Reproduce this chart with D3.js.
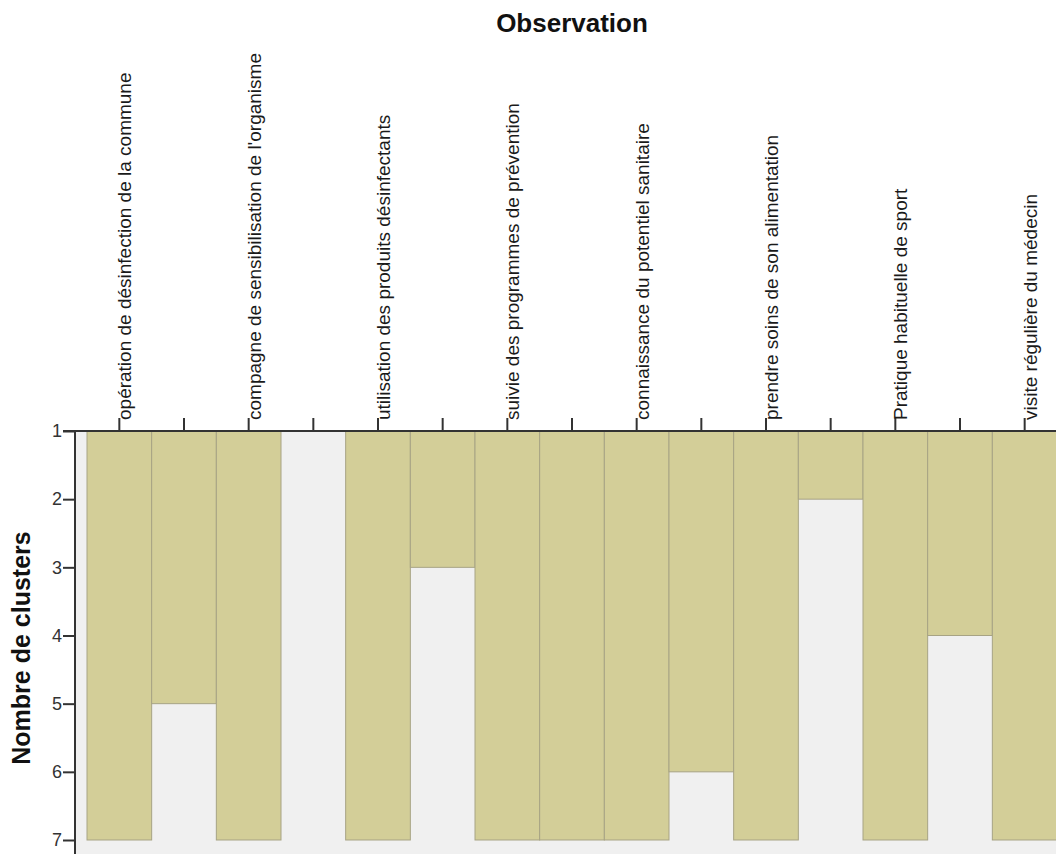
<!DOCTYPE html>
<html>
<head>
    <meta charset="utf-8">
    <title>Observation</title>
    <script src="https://d3js.org/d3.v7.min.js"></script>
    <style>
        body { margin: 0; background: #fff; }
        text { font-family: "Liberation Sans", Arial, sans-serif; }
        .tick text { fill: #333; }
    </style>
</head>
<body>
    <div id="chart"></div>

    <script>
        // cases (observations), in icicle order
        const cases = [
            "opération de désinfection de la commune",
            "compagne de sensibilisation de l'organisme",
            "utilisation des produits désinfectants",
            "suivie des programmes de prévention",
            "connaissance du potentiel sanitaire",
            "prendre soins de son alimentation",
            "Pratique habituelle de sport",
            "visite régulière du médecin"
        ];
        // number of clusters down to which each pair of neighbours stays joined
        const joins = [5, 1, 3, 7, 6, 2, 4];
        const clusterTicks = [1, 2, 3, 4, 5, 6, 7];
        const maxClusters = 7;

        const width = 1056, height = 854;
        const plotLeft = 75, plotTop = 431;

        // build the columns: case, join, case, join, ...
        var columns = [];
        cases.forEach((c, i) => {
            columns.push({ idx: columns.length, label: c, value: maxClusters });
            if (i < joins.length) columns.push({ idx: columns.length, label: null, value: joins[i] });
        });

        var svg = d3.select("#chart").append("svg")
            .attr("width", width)
            .attr("height", height);

        var xScale = d3.scaleBand().domain(columns.map(d => d.idx)).range([87, 1057]).padding(0);
        var yScale = d3.scaleLinear().domain([1, maxClusters]).range([plotTop, 840]);

        // plot background
        svg.append("rect")
            .attr("x", plotLeft)
            .attr("y", plotTop)
            .attr("width", width - plotLeft)
            .attr("height", height - plotTop)
            .attr("fill", "#f0f0f0");

        // icicle bars
        svg.selectAll(".bar")
            .data(columns)
            .enter().append("rect")
            .attr("class", "bar")
            .attr("x", d => xScale(d.idx))
            .attr("y", yScale(1))
            .attr("width", xScale.bandwidth())
            .attr("height", d => yScale(d.value) - yScale(1))
            .attr("fill", "#d3ce98")
            .attr("stroke", "#a7a384")
            .attr("stroke-width", 1);

        // left axis
        var yAxis = svg.append("g")
            .attr("transform", "translate(" + plotLeft + ",0)")
            .call(d3.axisLeft(yScale).tickValues(clusterTicks).tickSize(12).tickSizeOuter(0).tickFormat(d3.format("d")));
        yAxis.select(".domain").remove();
        yAxis.selectAll(".tick line").attr("stroke", "#333").attr("stroke-width", 2);
        yAxis.selectAll(".tick text")
            .attr("x", -13)
            .style("font-size", "18px");

        svg.append("line")
            .attr("x1", plotLeft).attr("x2", plotLeft)
            .attr("y1", plotTop - 1).attr("y2", height)
            .attr("stroke", "#333").attr("stroke-width", 2);

        // top axis
        var xAxis = svg.append("g")
            .attr("transform", "translate(0," + plotTop + ")")
            .call(d3.axisTop(xScale).tickSize(13).tickSizeOuter(0).tickFormat(""));
        xAxis.select(".domain").remove();
        xAxis.selectAll(".tick line").attr("stroke", "#333").attr("stroke-width", 2);

        svg.append("line")
            .attr("x1", 63).attr("x2", width)
            .attr("y1", plotTop).attr("y2", plotTop)
            .attr("stroke", "#333").attr("stroke-width", 2);

        // case labels, rotated
        svg.selectAll(".case-label")
            .data(columns.filter(d => d.label))
            .enter().append("text")
            .attr("class", "case-label")
            .attr("transform", d => "translate(" + (xScale(d.idx) + xScale.bandwidth() / 2 + 12) + "," + (plotTop - 11) + ") rotate(-90)")
            .style("text-anchor", "start")
            .style("font-size", "19px")
            .attr("fill", "#1a1a1a")
            .text(d => d.label);

        // titles
        svg.append("text")
            .attr("x", 572)
            .attr("y", 32)
            .style("text-anchor", "middle")
            .style("font-size", "26px")
            .style("font-weight", "bold")
            .attr("fill", "#111")
            .text("Observation");

        svg.append("text")
            .attr("transform", "translate(30,648) rotate(-90)")
            .style("text-anchor", "middle")
            .style("font-size", "25px")
            .style("font-weight", "bold")
            .attr("fill", "#111")
            .text("Nombre de clusters");
    </script>
</body>
</html>
